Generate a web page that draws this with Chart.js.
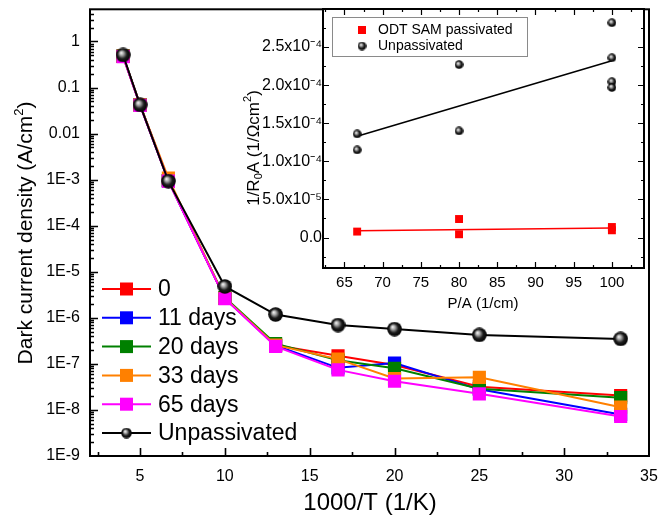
<!DOCTYPE html>
<html>
<head>
<meta charset="utf-8">
<script src="https://cdn.jsdelivr.net/npm/chart.js@4.4.0/dist/chart.umd.min.js"></script>
<style>
  html, body { margin: 0; padding: 0; background: #fff; }
  #wrap { position: relative; width: 658px; height: 521px; overflow: hidden; background: #fff; }
  #main { position: absolute; left: 0; top: 0; width: 680px; height: 521px; }
  #inset { position: absolute; left: 240px; top: 0; width: 418px; height: 315px; }
</style>
</head>
<body>
<div id="wrap">
  <canvas id="main" width="680" height="521"></canvas>
  <canvas id="inset" width="418" height="315"></canvas>
</div>
<script>
// main plot: dark current density vs 1000/T
const invTemp = [4, 5, 6.67, 10, 12.99, 16.67, 20, 25, 33.33];
const day0 = [0.48, 0.042, 9.5e-4, 2.65e-6, 2.55e-7, 1.5e-7, 9.5e-8, 3.2e-8, 2.05e-8];
const day11 = [0.48, 0.042, 9.5e-4, 2.65e-6, 2.5e-7, 8.2e-8, 1.04e-7, 2.8e-8, 8.0e-9];
const day20 = [0.48, 0.042, 9.5e-4, 2.75e-6, 2.75e-7, 1.2e-7, 8.0e-8, 2.9e-8, 1.85e-8];
const day33 = [0.48, 0.042, 1.08e-3, 2.65e-6, 2.55e-7, 1.27e-7, 4.8e-8, 5.1e-8, 1.15e-8];
const day65 = [0.47, 0.041, 9.3e-4, 2.6e-6, 2.4e-7, 7.4e-8, 4.2e-8, 2.24e-8, 7.2e-9];
const unpassivated = [0.51, 0.042, 9.3e-4, 4.8e-6, 1.18e-6, 6.97e-7, 5.7e-7, 4.26e-7, 3.49e-7];
const seriesLabels = ['0', '11 days', '20 days', '33 days', '65 days', 'Unpassivated'];
const xTicks = [5, 10, 15, 20, 25, 30, 35];
const yTickValues = [1e-9, 1e-8, 1e-7, 1e-6, 1e-5, 1e-4, 1e-3, 1e-2, 1e-1, 1];
const yTickLabels = ['1E-9', '1E-8', '1E-7', '1E-6', '1E-5', '1E-4', '1E-3', '0.01', '0.1', '1'];

// inset: 1/R0A vs P/A
const passX = [66.67, 80, 80, 100, 100];
const passY = [7.8e-6, 2.43e-5, 4.3e-6, 1.38e-5, 9.5e-6];
const unpassX = [66.67, 66.67, 80, 80, 100, 100, 100, 100];
const unpassY = [1.36e-4, 1.15e-4, 2.27e-4, 1.40e-4, 2.82e-4, 2.36e-4, 2.045e-4, 1.97e-4];
const fitX = [66.67, 100];
const passFitY = [9.0e-6, 1.25e-5];
const unpassFitY = [1.33e-4, 2.32e-4];
const insetXTicks = [65, 70, 75, 80, 85, 90, 95, 100];
const insetYTickValues = [0, 5e-5, 1e-4, 1.5e-4, 2e-4, 2.5e-4];
const insetYTickLabels = ['0.0', '5.0x10\u207B\u2075', '1.0x10\u207B\u2074', '1.5x10\u207B\u2074', '2.0x10\u207B\u2074', '2.5x10\u207B\u2074'];

const FONT = 'Liberation Sans, Arial, sans-serif';
Chart.defaults.font.family = FONT;
Chart.defaults.color = '#000';

function pts(xs, ys) {
  return xs.map((x, i) => ({ x: x, y: ys[i] }));
}

// fixed axis sizes, no extra room for the end labels
function fixSize(prop, size) {
  return s => {
    s[prop] = size;
    s.paddingTop = 0; s.paddingBottom = 0; s.paddingLeft = 0; s.paddingRight = 0;
  };
}

// black shaded ball used as marker
function makeSphere(d) {
  const c = document.createElement('canvas');
  c.width = d; c.height = d;
  const g = c.getContext('2d');
  const r = d / 2;
  const grad = g.createRadialGradient(r * 0.72, r * 0.68, 0, r, r, r);
  grad.addColorStop(0, '#ffffff');
  grad.addColorStop(0.28, '#a8a8a8');
  grad.addColorStop(0.62, '#1c1c1c');
  grad.addColorStop(1, '#000000');
  g.fillStyle = grad;
  g.beginPath();
  g.arc(r, r, r - 0.2, 0, Math.PI * 2);
  g.fill();
  return c;
}

// box round the plot area and inward tick marks
const frameTicks = {
  id: 'frameTicks',
  afterDraw(chart, args, o) {
    const { ctx, chartArea: a, scales } = chart;
    ctx.save();
    ctx.strokeStyle = '#000';
    ctx.lineWidth = o.lineWidth;
    ctx.strokeRect(a.left, a.top, a.right - a.left, a.bottom - a.top);
    ctx.lineWidth = o.tickWidth;
    ctx.beginPath();
    const xt = (vals, len) => vals.forEach(v => {
      const px = Math.round(scales.x.getPixelForValue(v)) + 0.5;
      if (px < a.left + 1 || px > a.right - 1) return;
      ctx.moveTo(px, a.bottom); ctx.lineTo(px, a.bottom - len);
      if (o.mirror) { ctx.moveTo(px, a.top); ctx.lineTo(px, a.top + len); }
    });
    const yt = (vals, len) => vals.forEach(v => {
      const py = Math.round(scales.y.getPixelForValue(v)) + 0.5;
      if (py < a.top + 1 || py > a.bottom - 1) return;
      ctx.moveTo(a.left, py); ctx.lineTo(a.left + len, py);
      if (o.mirror) { ctx.moveTo(a.right, py); ctx.lineTo(a.right - len, py); }
    });
    xt(o.xMajor, o.major); xt(o.xMinor, o.minor);
    yt(o.yMajor, o.major); yt(o.yMinor, o.minor);
    ctx.stroke();
    ctx.restore();
  }
};

const mainLegend = {
  id: 'mainLegend',
  afterDraw(chart, args, o) {
    const ctx = chart.ctx;
    ctx.save();
    chart.data.datasets.forEach((ds, i) => {
      const y = o.top + i * o.spacing;
      ctx.strokeStyle = ds.borderColor;
      ctx.lineWidth = 2;
      ctx.beginPath();
      ctx.moveTo(o.x0, y); ctx.lineTo(o.x1, y);
      ctx.stroke();
      const mx = (o.x0 + o.x1) / 2;
      if (ds.legendMarker) {
        const m = ds.legendMarker;
        ctx.drawImage(m, mx - m.width / 2, y - m.height / 2);
      } else {
        ctx.fillStyle = ds.backgroundColor;
        ctx.fillRect(mx - 6.5, y - 6.5, 13, 13);
      }
      ctx.fillStyle = '#000';
      ctx.font = o.font;
      ctx.textBaseline = 'middle';
      ctx.fillText(ds.label, o.textX, y + 1);
    });
    ctx.restore();
  }
};

// axis titles with super/subscripts
const mainTitles = {
  id: 'mainTitles',
  afterDraw(chart) {
    const ctx = chart.ctx;
    ctx.save();
    ctx.fillStyle = '#000';
    ctx.textBaseline = 'middle';
    ctx.textAlign = 'center';
    ctx.font = '24px ' + FONT;
    ctx.fillText('1000/T (1/K)', 370, 503);
    ctx.translate(26, 233);
    ctx.rotate(-Math.PI / 2);
    ctx.font = '21px ' + FONT;
    ctx.textAlign = 'left';
    const a = 'Dark current density (A/cm';
    const wA = ctx.measureText(a).width;
    ctx.font = '13px ' + FONT;
    const w2 = ctx.measureText('2').width;
    ctx.font = '21px ' + FONT;
    const wC = ctx.measureText(')').width;
    const x0 = -(wA + w2 + wC) / 2;
    ctx.fillText(a, x0, 0);
    ctx.font = '13px ' + FONT;
    ctx.fillText('2', x0 + wA, -7);
    ctx.font = '21px ' + FONT;
    ctx.fillText(')', x0 + wA + w2, 0);
    ctx.restore();
  }
};

const bigSphere = makeSphere(15);
const legendSphere = makeSphere(11);

function squareSeries(label, ys, color, order) {
  return {
    label: label,
    data: pts(invTemp, ys),
    showLine: true,
    borderColor: color,
    backgroundColor: color,
    borderWidth: 2,
    pointStyle: 'rect',
    pointRadius: 9.3,
    pointBorderWidth: 0,
    order: order
  };
}

new Chart(document.getElementById('main'), {
  type: 'scatter',
  data: {
    datasets: [
      squareSeries(seriesLabels[0], day0, '#ff0000', 5),
      squareSeries(seriesLabels[1], day11, '#0000ff', 4),
      squareSeries(seriesLabels[2], day20, '#008000', 3),
      squareSeries(seriesLabels[3], day33, '#ff8000', 2),
      squareSeries(seriesLabels[4], day65, '#ff00ff', 1),
      {
        label: seriesLabels[5],
        data: pts(invTemp, unpassivated),
        showLine: true,
        borderColor: '#000',
        backgroundColor: '#000',
        borderWidth: 2,
        pointStyle: bigSphere,
        legendMarker: legendSphere,
        order: 0
      }
    ]
  },
  options: {
    responsive: false,
    animation: false,
    events: [],
    layout: { padding: { top: 6, right: 31, left: 0, bottom: 0 } },
    plugins: {
      legend: { display: false },
      tooltip: { enabled: false },
      frameTicks: {
        lineWidth: 2, tickWidth: 1.6, major: 8, minor: 4, mirror: false,
        xMajor: xTicks, xMinor: [2.5, 7.5, 12.5, 17.5, 22.5, 27.5, 32.5],
        yMajor: yTickValues,
        yMinor: yTickValues.flatMap(d => [2, 3, 4, 5, 6, 7, 8, 9].map(k => k * d))
      },
      mainLegend: { x0: 102, x1: 151, textX: 158, top: 289, spacing: 28.8, font: '23px ' + FONT }
    },
    scales: {
      x: {
        type: 'linear', min: 2.05, max: 35,
        grid: { display: false, drawTicks: false },
        border: { display: false },
        ticks: { font: { size: 16 }, padding: 11, color: '#000' },
        afterBuildTicks: s => { s.ticks = xTicks.map(v => ({ value: v })); },
        afterFit: fixSize('height', 65)
      },
      y: {
        type: 'logarithmic', min: 1e-9, max: 5,
        grid: { display: false, drawTicks: false },
        border: { display: false },
        ticks: {
          font: { size: 16 }, padding: 10, color: '#000',
          callback: v => yTickLabels[yTickValues.findIndex(t => Math.abs(Math.log10(t) - Math.log10(v)) < 1e-6)]
        },
        afterBuildTicks: s => { s.ticks = yTickValues.map(v => ({ value: v })); },
        afterFit: fixSize('width', 90)
      }
    }
  },
  plugins: [frameTicks, mainLegend, mainTitles]
});

// ---------- inset ----------
const insetLegend = {
  id: 'insetLegend',
  afterDraw(chart) {
    const ctx = chart.ctx;
    ctx.save();
    ctx.strokeStyle = '#8a8a8a';
    ctx.lineWidth = 1;
    ctx.strokeRect(92.5, 17.5, 195, 39);
    ctx.fillStyle = '#ff0000';
    ctx.fillRect(118, 26, 8, 8);
    const s = makeSphere(9);
    ctx.drawImage(s, 117.5, 41.5);
    ctx.fillStyle = '#000';
    ctx.font = '14px ' + FONT;
    ctx.textBaseline = 'middle';
    ctx.fillText('ODT SAM passivated', 138, 30);
    ctx.fillText('Unpassivated', 138, 46.5);
    // titles
    ctx.textAlign = 'center';
    ctx.font = '15px ' + FONT;
    ctx.fillText('P/A (1/cm)', 243, 304);
    ctx.translate(14, 148);
    ctx.rotate(-Math.PI / 2);
    ctx.textAlign = 'left';
    const big = '17px ' + FONT, small = '11px ' + FONT;
    const parts = [['1/R', big, 0], ['0', small, 5], ['A (1/\u03A9cm', big, 0], ['2', small, -6], [')', big, 0]];
    let total = 0;
    parts.forEach(p => { ctx.font = p[1]; total += ctx.measureText(p[0]).width; });
    let x = -total / 2;
    parts.forEach(p => { ctx.font = p[1]; ctx.fillText(p[0], x, p[2]); x += ctx.measureText(p[0]).width; });
    ctx.restore();
  }
};

const insetBg = {
  id: 'insetBg',
  beforeDraw(chart) {
    const { ctx, chartArea: a } = chart;
    ctx.save();
    ctx.fillStyle = '#fff';
    ctx.fillRect(a.left, a.top, a.right - a.left, a.bottom - a.top);
    ctx.restore();
  }
};

const smallSphere = makeSphere(9);

new Chart(document.getElementById('inset'), {
  type: 'scatter',
  data: {
    datasets: [
      { label: 'ODT SAM passivated', data: pts(passX, passY), backgroundColor: '#ff0000',
        pointStyle: 'rect', pointRadius: 5.6, pointBorderWidth: 0, order: 1 },
      { label: 'Unpassivated', data: pts(unpassX, unpassY), backgroundColor: '#000',
        pointStyle: smallSphere, order: 0 },
      { label: 'passivated fit', data: pts(fitX, passFitY), showLine: true, borderColor: '#ff0000',
        borderWidth: 1.5, pointRadius: 0, order: 2 },
      { label: 'unpassivated fit', data: pts(fitX, unpassFitY), showLine: true, borderColor: '#000',
        borderWidth: 1.5, pointRadius: 0, order: 2 }
    ]
  },
  options: {
    responsive: false,
    animation: false,
    events: [],
    layout: { padding: { top: 9, right: 14, left: 0, bottom: 0 } },
    plugins: {
      legend: { display: false },
      tooltip: { enabled: false },
      frameTicks: {
        lineWidth: 2, tickWidth: 1.2, major: 6, minor: 3, mirror: true,
        xMajor: insetXTicks, xMinor: [62.5, 67.5, 72.5, 77.5, 82.5, 87.5, 92.5, 97.5, 102.5],
        yMajor: insetYTickValues, yMinor: [-2.5e-5, 2.5e-5, 7.5e-5, 1.25e-4, 1.75e-4, 2.25e-4, 2.75e-4]
      }
    },
    scales: {
      x: {
        type: 'linear', min: 62.2, max: 104.2,
        grid: { display: false, drawTicks: false },
        border: { display: false },
        ticks: { font: { size: 15 }, padding: 6, color: '#000' },
        afterBuildTicks: s => { s.ticks = insetXTicks.map(v => ({ value: v })); },
        afterFit: fixSize('height', 47)
      },
      y: {
        type: 'linear', min: -4e-5, max: 3e-4,
        grid: { display: false, drawTicks: false },
        border: { display: false },
        ticks: {
          font: { size: 16 }, padding: 1, color: '#000',
          callback: v => insetYTickLabels[insetYTickValues.findIndex(t => Math.abs(t - v) < 1e-9)]
        },
        afterBuildTicks: s => { s.ticks = insetYTickValues.map(v => ({ value: v })); },
        afterFit: fixSize('width', 83)
      }
    }
  },
  plugins: [insetBg, frameTicks, insetLegend]
});
</script>
</body>
</html>
